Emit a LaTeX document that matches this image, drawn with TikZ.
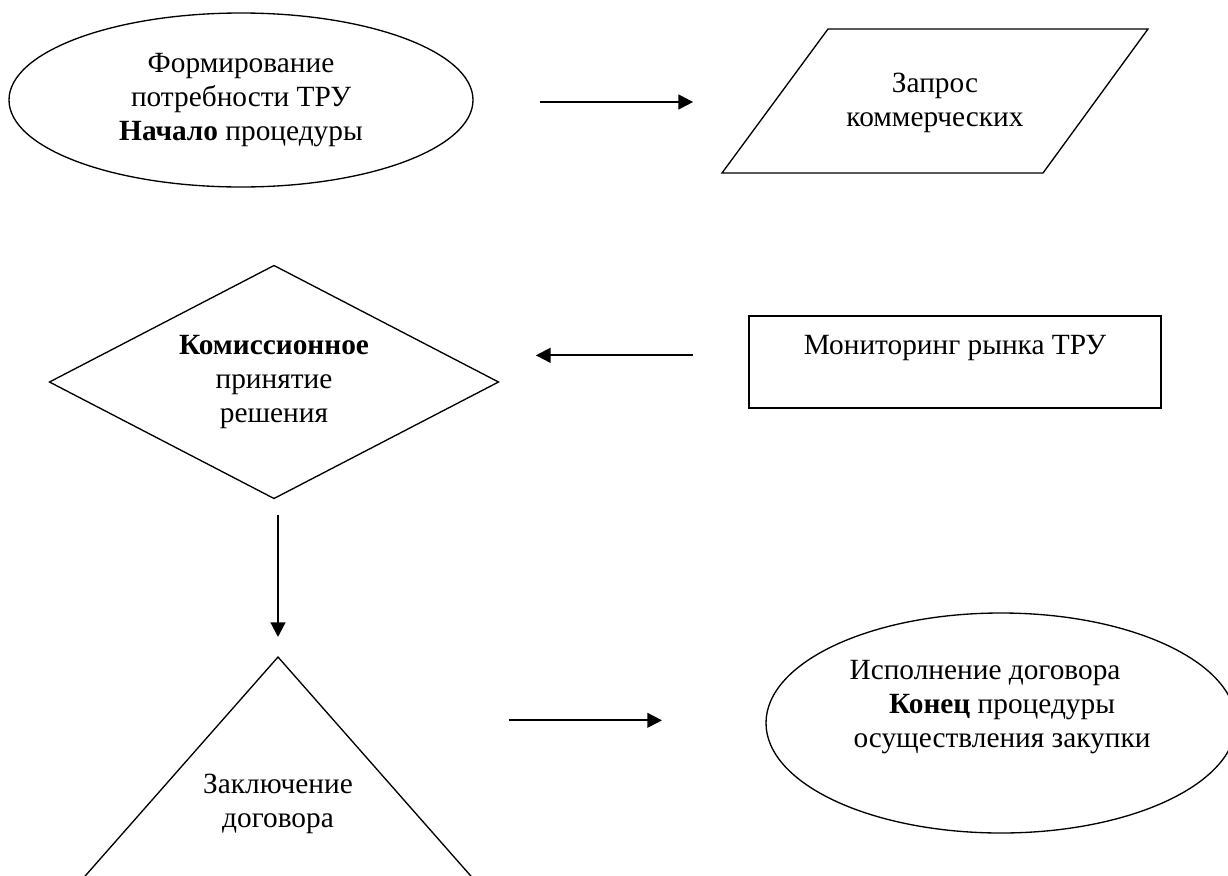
\documentclass[tikz,border=0pt]{standalone}
\usepackage{fontspec}
\setmainfont{Liberation Serif}
\usetikzlibrary{shapes.geometric,arrows.meta}

\begin{document}
\begin{tikzpicture}[x=0.75pt,y=-0.75pt,
    every node/.style={font=\fontsize{22pt}{25.5pt}\selectfont, align=center, inner sep=0pt, outer sep=0pt},
    box/.style={draw, line width=1pt},
    arr/.style={-{Triangle[length=11pt,width=11pt]}, line width=1.6pt}]
  \useasboundingbox (0,0) rectangle (1228,875);
  \clip (0,0) rectangle (1228,875);
  % Blocks
  \node [box, ellipse, minimum width=348pt, minimum height=130.5pt] (start) at (241,100)
    {Формирование\\ потребности ТРУ\\ \textbf{Начало} процедуры};
  \node (request) at (935,103) {Запрос\\ коммерческих};
  \draw [box] (request) ++(-107,-74) -- ++(320,0) -- ++(-105,144) -- ++(-321,0) -- cycle;
  \node [box, diamond, aspect=1.93, minimum width=336.75pt, minimum height=174.75pt] (decision) at (274,382)
    {\textbf{Комиссионное}\\ принятие\\ решения};
  \node [box, minimum width=309pt, minimum height=69pt, text height=15pt, text depth=26pt] (monitor) at (955,362)
    {Мониторинг рынка ТРУ};
  \coordinate (apex) at (278,657);
  \draw [box] (apex) -- ++(-214,243) -- ++(428,0) -- cycle;
  \node (contract) at (278,804) {Заключение\\ договора};
  \node [box, ellipse, minimum width=352.5pt, minimum height=165pt] (finish) at (1001,723) {};
  \node (finishtext) at (1002,707)
    {Исполнение договора\hspace*{25.5pt}\\ \textbf{Конец} процедуры\\ осуществления закупки};
  % Arrows
  \draw [arr, shorten <=50pt, shorten >=115pt] ([yshift=-1.5pt]start.east) -- ([yshift=-1.5pt]start.east -| request.west);
  \draw [arr, shorten <=42pt, shorten >=28pt] ([yshift=5pt]monitor.west) -- ([yshift=5pt]monitor.west -| decision.east);
  \draw [arr, shorten <=12pt, shorten >=15pt] (decision.south -| apex) -- (apex);
  \draw [arr, shorten <=173pt, shorten >=78pt] ([yshift=2pt]apex |- finish.west) -- ([yshift=2pt]finish.west);
\end{tikzpicture}
\end{document}
